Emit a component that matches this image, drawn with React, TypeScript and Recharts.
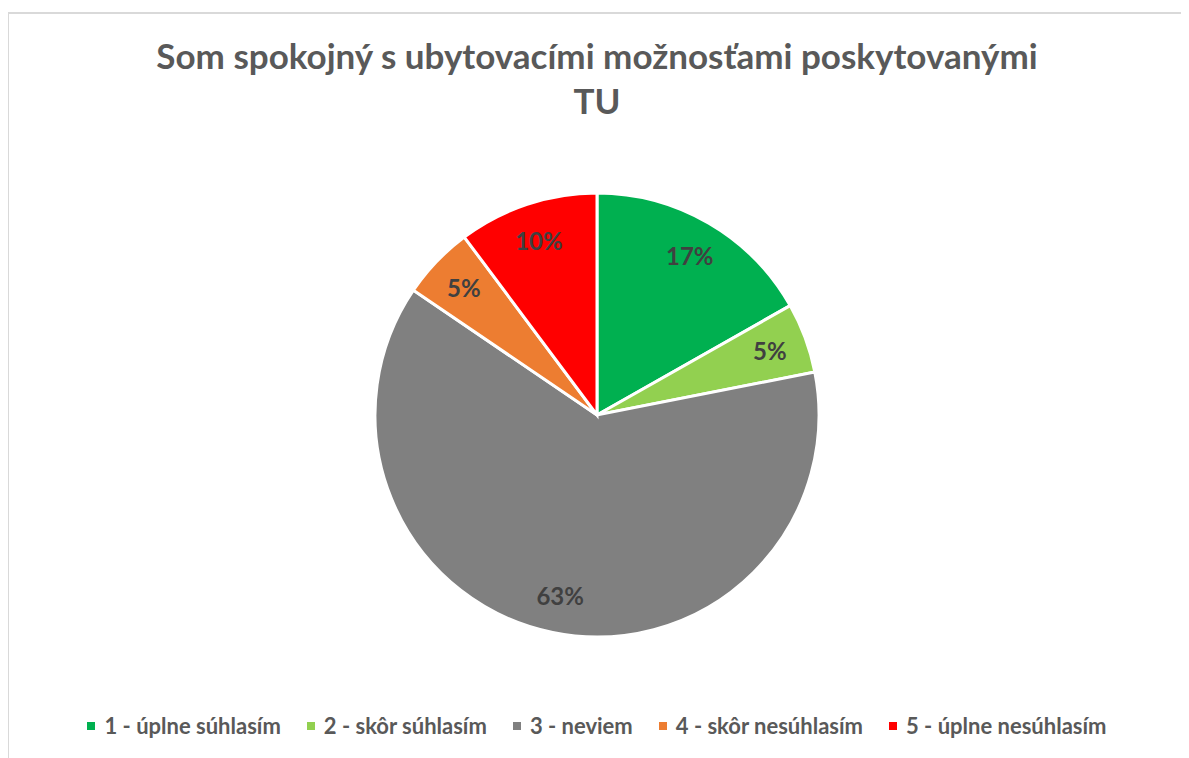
import React from 'react';
import { PieChart, Pie, Cell, Legend } from 'recharts';

const CATEGORIES = ['1 - úplne súhlasím', '2 - skôr súhlasím', '3 - neviem', '4 - skôr nesúhlasím', '5 - úplne nesúhlasím'];
const SHARES = [16.8, 5.1, 62.6, 5.3, 10.2];
const COLORS = ['#00b050', '#92d050', '#808080', '#ed7d31', '#ff0000'];
const TITLE_LINES = ['Som spokojný s ubytovacími možnosťami poskytovanými', 'TU'];

const FONT = 'Lato, "Open Sans", sans-serif';
const W = 1180;
const H = 760;

const chartData = CATEGORIES.map((name, i) => ({ name, value: SHARES[i] }));

const RADIAN = Math.PI / 180;

const renderLabel = (props: any) => {
  const { cx, cy, midAngle, outerRadius, percent } = props;
  const r = outerRadius * 0.83;
  const x = cx + r * Math.cos(-midAngle * RADIAN);
  const y = cy + r * Math.sin(-midAngle * RADIAN);
  return (
    <text x={x} y={y} fill="#404040" textAnchor="middle" dominantBaseline="central"
      style={{ fontFamily: FONT, fontWeight: 700, fontSize: 24 }}>
      {`${Math.round(percent * 100)}%`}
    </text>
  );
};

const renderLegend = () => (
  <div style={{ display: 'flex', justifyContent: 'center', gap: 26, fontFamily: FONT, fontWeight: 700, fontSize: 22, color: '#595959' }}>
    {CATEGORIES.map((c, i) => (
      <span key={c} style={{ display: 'flex', alignItems: 'center' }}>
        <span style={{ display: 'inline-block', width: 8, height: 8, background: COLORS[i], marginRight: 9 }} />
        {c}
      </span>
    ))}
  </div>
);

export default function App() {
  return (
    <div style={{ position: 'relative', left: -1, top: 4, width: W, height: H, border: '2px solid #d9d9d9', boxSizing: 'border-box', background: '#fff' }}>
      <div style={{ position: 'absolute', top: 19, left: 0, width: '100%', textAlign: 'center', fontFamily: FONT, fontWeight: 700, fontSize: 35, lineHeight: '45px', color: '#595959' }}>
        {TITLE_LINES.map(t => <div key={t}>{t}</div>)}
      </div>
      <div style={{ position: 'absolute', top: 0, left: 0 }}>
        <PieChart width={W - 4} height={H - 4}>
          <Pie
            data={chartData}
            dataKey="value"
            nameKey="name"
            cx={583}
            cy={396}
            outerRadius={222}
            startAngle={90}
            endAngle={-270}
            stroke="#ffffff"
            strokeWidth={3}
            labelLine={false}
            label={renderLabel}
            isAnimationActive={false}
          >
            {chartData.map((d, i) => (
              <Cell key={`cell-${i}`} fill={COLORS[i]} />
            ))}
          </Pie>
          <Legend content={renderLegend} wrapperStyle={{ top: 698, left: 0, width: W - 4 }} />
        </PieChart>
      </div>
    </div>
  );
}
